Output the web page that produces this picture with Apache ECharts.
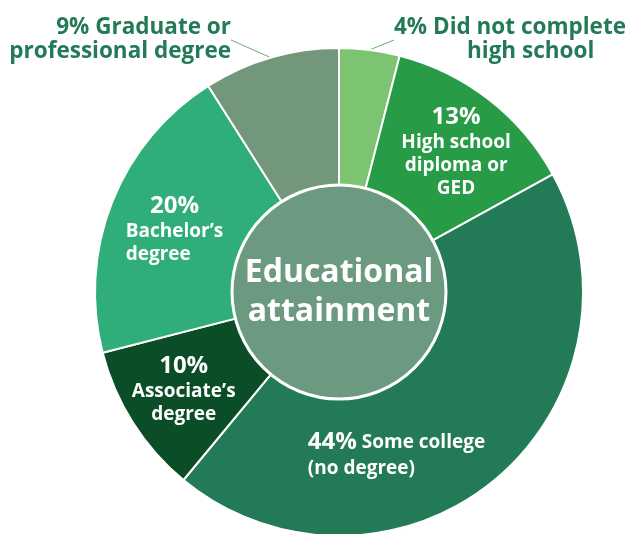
<!DOCTYPE html>
<html>
<head>
<meta charset="utf-8">
<script src="https://cdn.jsdelivr.net/npm/echarts@6/dist/echarts.min.js"></script>
<style>
  html, body { margin: 0; padding: 0; background: #fff; }
  #main { width: 631px; height: 534px; }
</style>
</head>
<body>
<div id="main"></div>
<script>
// 数据
var categories = ['Did not complete high school', 'High school diploma or GED', 'Some college (no degree)', 'Associate’s degree', 'Bachelor’s degree', 'Graduate or professional degree'];
var shares = [4, 13, 44, 10, 20, 9];
var colors = ['#7dc472', '#289b46', '#237a57', '#0b4d27', '#2fae7a', '#72977a'];
var centerTitle = 'Educational\nattainment';

var FONT = 'Open Sans';
var DARK = '#237a57';

// 每块的标签文字
var labelText = [
  '{a|4% Did not complete}\n{b|high school}',
  '{pct|13%}\n{t|High school}\n{t|diploma or}\n{t|GED}',
  '{pct|44%}{s| Some college}\n{t|(no degree)}',
  '{pct|10%}\n{t|Associate’s}\n{t|degree}',
  '{pct|20%}\n{t|Bachelor’s}\n{t|degree}',
  '{a|9% Graduate or}\n{a|professional degree}'
];

function txt(size, lh, color, align, extra) {
  var o = { fontFamily: FONT, fontWeight: 'bold', fontSize: size, lineHeight: lh, color: color, align: align };
  for (var k in extra) o[k] = extra[k];
  return o;
}
function richInside(alignPct, alignT) {
  return {
    pct: txt(24, 28, '#fff', alignPct),
    t: txt(19, 23, '#fff', alignT),
    s: txt(19, 28, '#fff', alignT)
  };
}
var richs = [
  { a: txt(22.5, 24, DARK, 'left'), b: txt(22.5, 24, DARK, 'left', { padding: [0, 0, 0, 73] }) },
  richInside('center', 'center'),
  richInside('left', 'left'),
  richInside('center', 'center'),
  richInside('center', 'left'),
  { a: txt(22.5, 24, DARK, 'right') }
];

var outside = [0, 5];
var offsets = { 1: [8, 0], 2: [-56, 25], 3: [-5, 2], 4: [1, 3] };

var pieData = categories.map(function (name, i) {
  var isOut = outside.indexOf(i) >= 0;
  return {
    name: name,
    value: shares[i],
    itemStyle: { color: colors[i] },
    label: isOut ? {
      position: 'outside',
      formatter: labelText[i],
      rich: richs[i]
    } : {
      position: 'inside',
      formatter: labelText[i],
      rich: richs[i],
      offset: offsets[i] || [0, 0]
    },
    labelLine: { show: isOut, length: 18, length2: 0, lineStyle: { color: '#6aae68', width: 1 } }
  };
});

var chart = echarts.init(document.getElementById('main'));
chart.setOption({
  animation: false,
  series: [
    {
      type: 'pie',
      center: [339, 292],
      radius: [106, 244],
      startAngle: 90,
      clockwise: true,
      avoidLabelOverlap: false,
      itemStyle: { borderColor: '#fff', borderWidth: 2 },
      data: pieData,
      labelLayout: function (params) {
        if (params.dataIndex === 0) {
          return { x: 394, y: 40, align: 'left', verticalAlign: 'middle' };
        }
        if (params.dataIndex === 5) {
          return { x: 231, y: 40, align: 'right', verticalAlign: 'middle' };
        }
        return {};
      },
      emphasis: { disabled: true }
    },
    {
      type: 'pie',
      center: [339, 292],
      radius: [0, 107],
      silent: true,
      itemStyle: { color: '#6b9a80', borderColor: '#fff', borderWidth: 3 },
      label: {
        position: 'center',
        formatter: centerTitle,
        fontFamily: FONT,
        fontWeight: 'bold',
        fontSize: 32,
        lineHeight: 39,
        color: '#fff'
      },
      labelLine: { show: false },
      data: [{ name: 'center', value: 1 }]
    }
  ]
});
</script>
</body>
</html>
